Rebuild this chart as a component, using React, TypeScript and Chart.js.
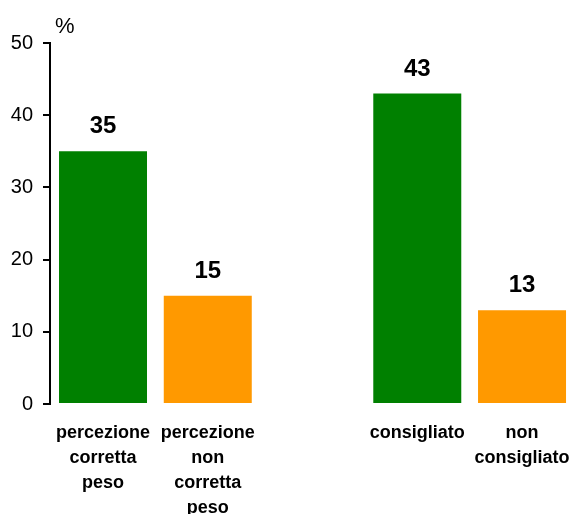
import React, { useEffect, useRef } from "react";
import { Chart, registerables } from "chart.js";

Chart.register(...registerables);

// Category labels (each as its own lines); the empty entry is the gap between the two groups
const categories: string[][] = [
  ["percezione", "corretta", "peso"],
  ["percezione", "non", "corretta", "peso"],
  [],
  ["consigliato"],
  ["non", "consigliato"],
];
const values: (number | null)[] = [35, 15, null, 43, 13];
const barColors: string[] = ["#008000", "#FF9900", "#FFFFFF", "#008000", "#FF9900"];
const yTicks: number[] = [0, 10, 20, 30, 40, 50];
const unitLabel = "%";

const FONT = "'Liberation Sans', Arial, Helvetica, sans-serif";

export default function App() {
  const canvasRef = useRef<HTMLCanvasElement | null>(null);

  useEffect(() => {
    if (!canvasRef.current) return;
    const points: { x: number; y: number }[] = [];
    const colors: string[] = [];
    values.forEach((v, i) => {
      if (v !== null) {
        points.push({ x: i, y: v });
        colors.push(barColors[i]);
      }
    });

    const valueLabels = {
      id: "valueLabels",
      afterDatasetsDraw(chart: any) {
        const ctx = chart.ctx;
        const meta = chart.getDatasetMeta(0);
        ctx.save();
        ctx.font = `bold 24px ${FONT}`;
        ctx.fillStyle = "#000";
        ctx.textAlign = "center";
        ctx.textBaseline = "alphabetic";
        meta.data.forEach((bar: any, i: number) => {
          ctx.fillText(String(points[i].y), bar.x, bar.y - 18);
        });
        // unit label
        ctx.font = `22px ${FONT}`;
        ctx.textAlign = "left";
        ctx.fillText(unitLabel, chart.chartArea.left + 5, 33);
        ctx.restore();
      },
    };

    const chart = new Chart(canvasRef.current, {
      type: "bar",
      data: {
        datasets: [
          {
            data: points as any,
            backgroundColor: colors,
            borderWidth: 0,
            barPercentage: 0.84,
            categoryPercentage: 1,
          },
        ],
      },
      options: {
        animation: false,
        responsive: false,
        maintainAspectRatio: false,
        layout: { padding: { top: 43, left: 0, right: 0, bottom: 0 } },
        plugins: {
          legend: { display: false },
          tooltip: { enabled: false },
        },
        scales: {
          x: {
            type: "linear",
            min: -0.506,
            max: 4.477,
            offset: false,
            grid: { display: false, offset: false },
            border: { display: false },
            afterBuildTicks: (axis: any) => {
              axis.ticks = categories
                .map((c, i) => ({ value: i, len: c.length }))
                .filter((t) => t.len > 0)
                .map((t) => ({ value: t.value }));
            },
            afterFit: (axis: any) => {
              axis.height = 110;
              axis.paddingLeft = 0;
              axis.paddingRight = 0;
            },
            ticks: {
              autoSkip: false,
              maxRotation: 0,
              minRotation: 0,
              padding: 9,
              color: "#000",
              font: { family: FONT, size: 18, weight: "bold", lineHeight: "25px" } as any,
              callback: (value: any) => categories[Number(value)] || "",
            },
          },
          y: {
            min: 0,
            max: 50,
            afterBuildTicks: (axis: any) => {
              axis.ticks = yTicks.map((v) => ({ value: v }));
            },
            afterFit: (axis: any) => {
              axis.width = 50;
            },
            grid: {
              display: true,
              drawOnChartArea: false,
              drawTicks: true,
              tickLength: 7,
              color: "#000",
              lineWidth: 2,
            },
            border: { display: true, color: "#000", width: 2 },
            ticks: {
              padding: 10,
              color: "#000",
              font: { family: FONT, size: 20 },
            },
          },
        },
      },
      plugins: [valueLabels],
    });
    return () => chart.destroy();
  }, []);

  return (
    <div style={{ position: "fixed", left: 0, top: 0, width: 572, height: 514, background: "#fff" }}>
      <canvas ref={canvasRef} width={572} height={514} style={{ display: "block" }} />
    </div>
  );
}
